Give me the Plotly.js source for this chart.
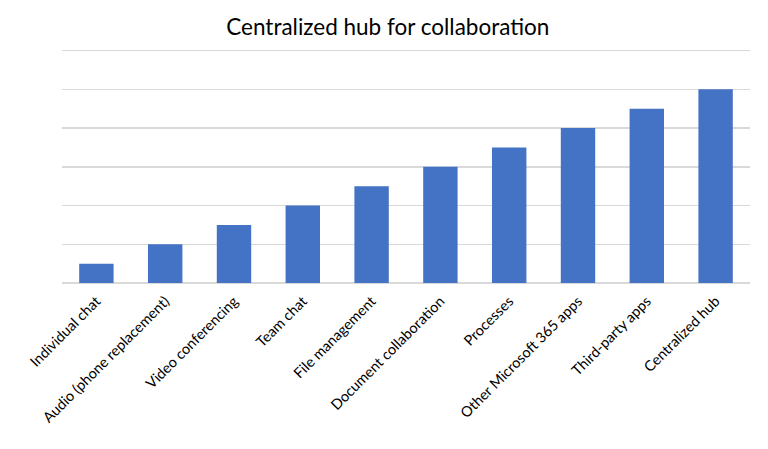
<!DOCTYPE html>
<html>
<head>
<meta charset="utf-8">
<script src="https://cdn.plot.ly/plotly-3.0.1.min.js"></script>
<style>
html,body{margin:0;padding:0;background:#fff;}
#chart{width:768px;height:449px;}
</style>
</head>
<body>
<div id="chart"></div>
<script>
const categories = [
  "Individual chat",
  "Audio (phone replacement)",
  "Video conferencing",
  "Team chat",
  "File management",
  "Document collaboration",
  "Processes",
  "Other Microsoft 365 apps",
  "Third-party apps",
  "Centralized hub"
];
const values = [0.5, 1, 1.5, 2, 2.5, 3, 3.5, 4, 4.5, 5];
const chartTitle = "Centralized hub for collaboration";

const trace = {
  type: "bar",
  x: categories,
  y: values,
  marker: {color: "#4472C4"},
  hoverinfo: "x+y"
};

const layout = {
  width: 768,
  height: 449,
  margin: {l: 62, r: 18, t: 39, b: 166},
  paper_bgcolor: "#ffffff",
  plot_bgcolor: "#ffffff",
  bargap: 0.5,
  showlegend: false,
  font: {family: "Lato, 'Open Sans', sans-serif", color: "#000000"},
  title: {
    text: chartTitle,
    font: {size: 22.5, color: "#000000", family: "Lato, 'Open Sans', sans-serif"},
    x: 0.505, xanchor: "center",
    y: 0.94, yanchor: "middle"
  },
  xaxis: {
    tickangle: -45,
    tickfont: {size: 14.5, color: "#000000"},
    ticklabelstandoff: 6,
    showgrid: false,
    showline: false,
    ticks: "",
    zeroline: false
  },
  yaxis: {
    range: [0, 6.3],
    tickvals: [0, 1, 2, 3, 4, 5, 6],
    showticklabels: false,
    showgrid: true,
    gridcolor: "#d9d9d9",
    gridwidth: 1.5,
    zeroline: true,
    zerolinecolor: "#d9d9d9",
    zerolinewidth: 1.5,
    showline: false,
    ticks: ""
  }
};

Plotly.newPlot("chart", [trace], layout, {displayModeBar: false, staticPlot: true});
</script>
</body>
</html>
